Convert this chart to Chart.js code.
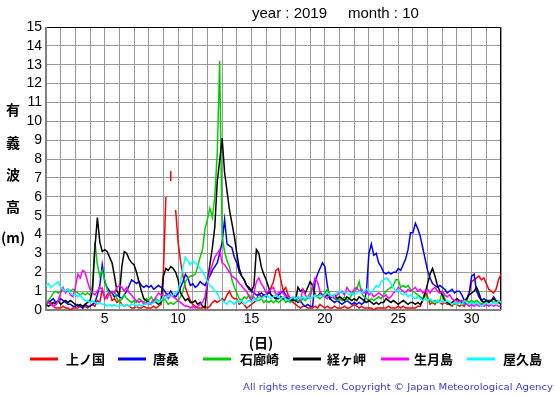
<!DOCTYPE html>
<html><head><meta charset="utf-8">
<script src="https://cdn.jsdelivr.net/npm/chart.js@4.4.0/dist/chart.umd.min.js"></script>
<style>html,body{margin:0;padding:0;background:#fff;}canvas{display:block}</style>
</head><body>
<canvas id="c" width="555" height="395"></canvas>
<script>
// ---- data (4-hourly readings, 6 per day, from day 1 00h to day 32 00h) ----
const STEPS_PER_DAY = 6;
const dayTickLabels = [5, 10, 15, 20, 25, 30];
const yTickValues = [0,1,2,3,4,5,6,7,8,9,10,11,12,13,14,15];
const stationNames = ['上ノ国', '唐桑', '石廊崎', '経ヶ岬', '生月島', '屋久島'];
const stationColors = ['#ff0000', '#0000ff', '#00d000', '#000000', '#ff00ff', '#00ffff'];

const kaminokuni = [
 0.3,0.5,0.4,0.2,0.1,0.1, 0.1,0.2,0.1,0.1,0.0,0.1, 0.1,0.1,0.2,0.1,0.2,0.1, 0.2,0.3,0.2,0.5,0.4,1.1,
 0.6,0.8,1.0,0.5,0.6,0.4, 0.5,0.3,0.2,0.3,0.2,0.1, 0.1,0.2,0.1,0.1,0.2,0.1, 0.1,0.1,0.2,0.1,0.2,0.3,
 2.0,6.0,null,7.1,null,5.3, 3.6,2.6,1.8,1.2,0.8,0.5, 0.3,0.2,0.1,0.1,0.1,0.2, 0.1,0.2,0.4,0.5,0.4,0.5,
 0.6,0.5,0.8,1.0,0.7,0.6, 0.6,0.3,0.4,0.3,0.1,0.2, 0.3,0.4,0.5,0.9,0.7,0.8, 0.8,0.9,1.2,1.5,2.1,2.2,
 1.6,1.0,1.2,0.8,0.5,0.4, 0.3,0.2,0.1,0.2,0.2,0.1, 0.1,0.1,0.2,0.1,0.3,0.2, 0.1,0.2,0.1,0.1,0.2,0.1,
 0.1,0.1,0.2,0.1,0.1,0.2, 0.3,0.2,0.1,0.2,0.1,0.1, 0.1,0.1,0.0,0.1,0.1,0.1, 0.1,0.1,0.2,0.1,0.1,0.1,
 0.2,0.1,0.2,0.1,0.1,0.1, 0.1,0.1,0.2,0.2,0.5,1.0, 0.7,0.3,0.4,0.3,0.5,0.4, 0.3,0.4,0.3,0.3,0.2,0.4,
 0.3,0.2,0.3,0.2,0.5,0.9, 1.5,1.6,1.7,1.8,1.6,1.7, 1.4,1.1,1.0,0.9,1.1,1.6, 1.9
];
const karakuwa = [
 0.3,0.4,0.5,0.6,0.4,0.5, 0.6,0.5,0.4,0.3,0.3,0.2, 0.2,0.3,0.2,0.1,0.3,0.2, 0.2,0.3,0.4,0.8,1.3,2.4,
 1.5,1.2,1.0,0.9,0.7,0.8, 0.7,0.6,0.8,1.0,1.3,1.6, 1.5,1.4,1.5,1.3,1.2,1.3, 1.2,1.3,1.1,1.2,1.3,1.2,
 1.1,0.9,0.8,1.0,0.8,0.7, 0.9,1.2,1.5,1.9,1.7,1.3, 1.4,1.2,1.3,1.5,1.4,1.3, 1.6,1.8,2.1,2.3,2.5,3.0,
 3.6,4.8,3.5,3.4,3.3,2.8, 2.5,2.0,1.8,1.6,1.3,1.1, 1.0,0.9,0.8,0.8,0.9,0.8, 0.7,1.0,0.8,0.7,0.6,0.8,
 0.9,1.0,0.8,0.6,0.5,0.6, 0.5,0.4,0.5,0.3,0.2,0.3, 0.2,0.2,1.5,1.9,2.2,2.5, 2.3,1.3,0.6,0.5,0.4,0.5,
 0.4,0.3,0.4,0.5,0.4,0.3, 0.4,0.3,0.4,0.3,0.4,1.0, 3.0,3.5,2.9,3.0,2.5,2.3, 2.0,1.9,2.0,1.9,2.0,2.0,
 2.2,2.1,2.4,2.7,3.2,4.1, 4.1,4.6,4.3,3.9,3.3,2.7, 2.1,1.7,1.4,1.3,1.2,1.3, 1.2,1.1,0.9,1.0,1.1,0.9,
 1.0,1.0,0.8,0.5,0.6,0.9, 1.8,1.9,1.0,0.7,0.5,0.6, 0.5,0.5,0.5,0.7,0.5,0.4, 0.35
];
const irozaki = [
 0.4,0.5,0.7,0.9,1.0,0.9, 1.0,1.1,1.0,1.1,1.0,1.1, 1.0,0.9,0.8,0.9,0.8,0.9, 0.8,1.3,3.6,2.4,1.8,2.1,
 1.6,1.1,0.8,0.9,1.0,0.6, 0.4,0.6,0.8,0.6,0.5,0.4, 0.5,0.4,0.6,0.5,0.4,0.6, 0.5,0.7,0.5,0.6,0.5,0.4,
 0.6,0.5,0.3,0.4,0.3,0.4, 0.5,0.7,1.0,1.5,1.7,1.8, 1.8,1.9,2.3,2.8,3.2,4.3, 4.8,5.4,4.9,6.0,8.3,13.2,
 3.9,3.1,2.6,2.3,1.6,1.2, 0.9,0.6,0.5,0.7,0.6,0.8, 0.6,0.7,0.5,0.5,0.6,0.4, 0.5,0.4,0.5,0.4,0.5,0.4,
 0.5,0.6,0.4,0.5,0.4,0.5, 0.6,0.5,0.4,0.6,0.5,0.7, 0.9,1.3,0.8,0.7,0.6,0.7, 0.9,1.1,0.8,0.7,0.6,0.5,
 0.6,0.5,0.7,0.5,0.6,0.8, 1.0,1.1,1.5,0.9,0.7,0.6, 0.5,0.6,0.5,0.6,0.7,0.6, 0.8,1.0,1.1,1.2,1.3,1.6,
 1.6,1.2,1.3,1.2,1.3,1.1, 1.0,0.9,0.8,0.7,0.6,0.8, 0.6,0.5,0.4,0.5,0.4,0.5, 1.0,0.6,0.4,0.3,0.4,0.3,
 0.3,0.5,0.4,0.3,0.5,0.4, 0.5,0.4,0.5,0.4,0.3,0.4, 0.5,0.4,0.5,0.4,0.5,0.4, 0.4
];
const kyogamisaki = [
 0.3,0.2,0.3,0.4,0.3,0.5, 0.3,0.4,0.5,0.4,0.5,0.4, 0.3,0.2,0.3,0.2,0.3,0.4, 0.5,1.0,3.3,4.9,3.6,3.1,
 3.2,3.1,2.8,2.5,1.8,1.0, 0.8,2.3,3.1,3.0,2.7,2.5, 2.4,2.0,1.5,1.0,0.6,0.5, 0.4,0.3,0.5,0.4,0.3,0.4,
 1.8,2.2,2.1,2.3,2.2,2.0, 1.6,0.9,0.7,0.5,0.6,0.4, 0.4,0.5,0.3,0.4,0.2,0.1, 1.5,2.4,3.3,4.4,6.8,7.9,
 9.1,7.3,6.3,5.3,4.6,3.9, 3.0,2.2,1.8,1.6,1.3,1.2, 1.0,1.3,3.2,3.0,2.3,1.9, 1.6,1.2,0.8,0.7,0.6,0.6,
 0.7,0.6,0.7,0.5,0.6,0.5, 0.5,1.2,1.0,1.1,0.9,1.2, 1.5,1.3,0.8,0.7,0.9,0.8, 0.7,0.8,0.6,0.7,0.8,0.6,
 0.7,0.6,0.5,0.7,0.6,0.5, 0.6,0.5,0.7,0.6,0.5,0.4, 0.5,0.4,0.3,0.4,0.3,0.4, 0.4,0.6,0.5,0.4,0.5,0.4,
 0.3,0.4,0.5,0.4,0.3,0.4, 0.4,0.3,0.4,0.3,0.5,0.9, 1.4,1.9,2.2,1.8,1.3,1.0, 0.8,0.5,0.4,0.3,0.4,0.5,
 0.6,0.5,0.4,0.5,0.6,0.8, 0.9,1.0,1.2,0.9,0.5,0.4, 0.5,0.4,0.5,0.6,0.5,0.4, 0.3
];
const ikitsukishima = [
 0.3,0.4,0.3,0.2,0.3,0.5, 0.9,1.2,0.9,1.1,0.8,0.7, 1.2,1.9,1.7,2.1,2.0,1.5, 1.1,0.9,0.8,1.0,1.2,1.1,
 0.7,0.6,0.9,1.0,0.9,1.2, 1.3,1.2,1.0,1.2,0.9,0.8, 0.6,0.5,0.4,0.5,0.3,0.4, 0.3,0.4,0.5,0.7,0.9,0.8,
 0.7,0.8,0.6,0.8,0.7,0.6, 0.5,0.4,0.3,0.2,0.2,0.1, 0.2,0.1,0.2,0.3,0.4,0.7, 1.5,2.0,2.4,2.8,3.0,3.2,
 2.5,2.4,2.2,2.0,1.8,1.7, 1.6,1.4,1.3,1.1,1.0,0.7, 0.5,0.9,1.5,1.7,1.4,1.2, 0.9,1.0,1.1,1.2,0.8,0.9,
 1.0,0.9,0.7,0.8,0.6,0.7, 0.6,0.7,0.5,1.1,0.8,0.6, 0.7,1.2,1.7,1.5,1.0,0.8, 0.7,0.6,0.8,0.7,0.6,0.8,
 0.9,1.0,0.8,1.2,1.0,0.9, 1.1,1.2,1.0,1.1,0.9,1.0, 0.8,0.9,0.7,0.8,0.9,0.8, 0.7,0.8,0.6,0.7,0.9,1.0,
 1.2,1.1,1.0,0.9,1.1,1.0, 1.1,1.2,1.0,1.1,0.9,1.0, 1.1,0.9,1.1,1.2,1.0,0.9, 1.0,0.8,0.7,0.8,0.6,0.5,
 0.5,0.4,0.5,0.4,0.3,0.2, 0.3,0.2,0.3,0.2,0.3,0.2, 0.3,0.2,0.3,0.2,0.3,0.2, 0.2
];
const yakushima = [
 1.3,1.4,1.2,1.3,1.4,1.5, 1.2,1.1,1.0,1.1,0.9,0.8, 0.8,0.7,0.8,0.6,0.5,0.5, 0.4,0.5,0.4,0.3,0.4,0.3,
 0.3,0.2,0.3,0.2,0.3,0.2, 0.2,0.3,0.2,0.3,0.2,0.3, 0.3,0.2,0.3,0.2,0.3,0.3, 0.4,0.3,0.4,0.5,0.4,0.5,
 0.7,0.6,0.8,0.7,0.8,0.9, 1.0,1.5,2.3,2.8,2.6,2.4, 2.6,2.5,2.4,2.2,2.0,1.8, 1.5,1.3,1.2,1.0,0.9,0.6,
 0.5,0.4,0.3,0.5,0.4,0.3, 0.5,0.4,0.5,0.3,0.4,0.5, 0.4,0.6,0.5,0.7,0.6,0.7, 0.8,0.7,0.6,0.7,0.8,0.7,
 0.6,0.7,0.6,0.5,0.6,0.7, 0.6,0.7,0.6,0.7,0.6,0.7, 0.6,0.7,0.8,0.7,0.8,0.7, 0.8,0.9,0.8,0.7,0.8,0.9,
 1.0,0.9,1.0,0.9,0.8,0.9, 0.8,0.9,1.0,0.9,1.0,1.1, 1.0,0.9,1.1,1.3,1.2,1.5, 1.6,1.7,1.6,1.4,1.2,1.0,
 1.1,0.9,0.8,0.9,0.7,0.8, 0.7,0.6,0.7,0.6,0.5,0.6, 0.5,0.6,0.5,0.4,0.5,0.4, 0.5,0.4,0.5,0.4,0.3,0.4,
 0.3,0.4,0.3,0.5,0.4,0.3, 0.4,0.3,0.4,0.3,0.2,0.3, 0.4,0.3,0.3,0.4,0.3,0.5, 0.4
];
const stationValues = [kaminokuni, karakuwa, irozaki, kyogamisaki, ikitsukishima, yakushima];
const times = kaminokuni.map((_, i) => 1 + i / STEPS_PER_DAY);

// ---- layout constants ----
const AREA = { left: 46, right: 501, top: 27, bottom: 310 };
const W = 555, H = 395;

function isolatedRadius(ctx) {
  const d = ctx.dataset.data, i = ctx.dataIndex;
  if (!d[i] || d[i].y == null) return 0;
  const pn = i === 0 || d[i - 1].y == null;
  const nn = i === d.length - 1 || d[i + 1].y == null;
  return (pn && nn) ? 5 : 0;
}

const frameAndText = {
  id: 'frameAndText',
  beforeDatasetsDraw(chart) {
    const { ctx, chartArea: a } = chart;
    ctx.save();
    ctx.strokeStyle = '#000'; ctx.lineWidth = 1;
    ctx.beginPath();
    ctx.moveTo(a.left, a.top + 0.5); ctx.lineTo(a.right - 0.5, a.top + 0.5);
    ctx.lineTo(a.right - 0.5, a.bottom);
    ctx.stroke();
    ctx.strokeStyle = '#808080'; ctx.lineWidth = 2;
    ctx.beginPath();
    ctx.moveTo(a.left, a.top); ctx.lineTo(a.left, a.bottom);
    ctx.lineTo(a.right, a.bottom);
    ctx.stroke();
    ctx.restore();
  },
  afterDraw(chart) {
    const { ctx } = chart;
    ctx.save();
    ctx.fillStyle = '#000';
    ctx.textBaseline = 'middle';
    // title
    ctx.font = '15px "Liberation Sans", Arial, sans-serif';
    ctx.textAlign = 'left';
    ctx.fillText('year : 2019', 252, 14);
    ctx.fillText('month : 10', 348, 14);
    // y axis title (vertical)
    ctx.font = 'bold 14px "Noto Sans CJK JP", sans-serif';
    ctx.textAlign = 'center';
    const yChars = ['有', '義', '波', '高', '(m)'];
    const yPos = [110, 143, 175, 207, 238];
    yChars.forEach((c, k) => ctx.fillText(c, 13, yPos[k]));
    // x axis title
    ctx.fillText('(日)', 261, 343);
    // legend
    const lineX = [30, 118, 203, 293, 381, 467];
    const textX = [66, 153, 240, 327, 414, 503];
    ctx.font = 'bold 13px "Noto Sans CJK JP", sans-serif';
    ctx.textAlign = 'left';
    stationNames.forEach((n, k) => {
      ctx.strokeStyle = stationColors[k]; ctx.lineWidth = 3;
      ctx.beginPath(); ctx.moveTo(lineX[k], 359); ctx.lineTo(lineX[k] + 28, 359); ctx.stroke();
      ctx.fillStyle = '#000';
      ctx.fillText(n, textX[k], 359);
    });
    // copyright
    ctx.fillStyle = '#3a3ad8';
    ctx.font = '9px "DejaVu Sans", sans-serif';
    const cp = 'All rights reserved. Copyright \u00a9 Japan Meteorological Agency';
    const w = ctx.measureText(cp).width;
    ctx.save();
    ctx.translate(243, 388);
    ctx.scale(310 / w, 1);
    ctx.fillText(cp, 0, 0);
    ctx.restore();
    ctx.restore();
  }
};

new Chart(document.getElementById('c').getContext('2d'), {
  type: 'line',
  data: {
    datasets: stationValues.map((vals, k) => ({
      label: stationNames[k],
      data: vals.map((v, i) => ({ x: times[i], y: v })),
      borderColor: stationColors[k],
      backgroundColor: stationColors[k],
      borderWidth: 1.5,
      pointRadius: isolatedRadius,
      pointStyle: 'line',
      pointRotation: 90,
      pointBorderWidth: 1.5,
      pointBorderColor: stationColors[k],
      pointHoverRadius: 0,
      tension: 0,
      spanGaps: false,
      fill: false,
      order: 6 - k
    }))
  },
  options: {
    responsive: false,
    animation: false,
    devicePixelRatio: 1,
    layout: { padding: { left: 0, right: W - AREA.right, top: AREA.top, bottom: 0 } },
    plugins: { legend: { display: false }, tooltip: { enabled: false }, title: { display: false } },
    scales: {
      x: {
        type: 'linear', min: 1, max: 32,
        afterFit(s) { s.height = H - AREA.bottom; },
        afterBuildTicks(s) { s.ticks = []; for (let d = 1; d <= 32; d++) s.ticks.push({ value: d }); },
        ticks: {
          autoSkip: false, maxRotation: 0, padding: 1, color: '#000',
          font: { family: '"Liberation Sans", Arial, sans-serif', size: 14 },
          callback: v => dayTickLabels.includes(v) ? String(v) : ''
        },
        grid: { color: '#999999', lineWidth: 1, drawTicks: false },
        border: { display: false }
      },
      y: {
        type: 'linear', min: 0, max: 15,
        afterFit(s) { s.width = AREA.left; },
        afterBuildTicks(s) { s.ticks = yTickValues.map(v => ({ value: v })); },
        ticks: {
          autoSkip: false, stepSize: 1, padding: 4, color: '#000',
          font: { family: '"Liberation Sans", Arial, sans-serif', size: 14 }
        },
        grid: { color: '#999999', lineWidth: 1, drawTicks: false },
        border: { display: false }
      }
    }
  },
  plugins: [frameAndText]
});
</script>
</body></html>
